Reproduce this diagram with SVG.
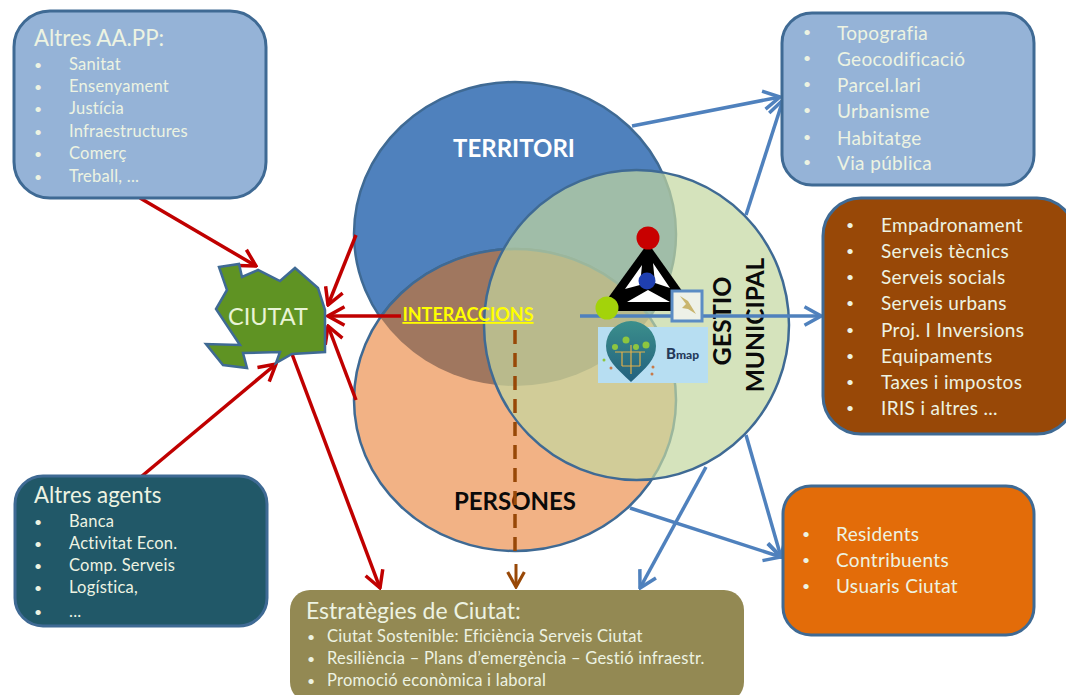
<svg xmlns="http://www.w3.org/2000/svg" width="1066" height="695" viewBox="0 0 1066 695">
<style>
text{font-family:Lato,"Noto Sans","Liberation Sans",sans-serif}
.box{stroke:#3f6a94;stroke-width:3}
.t{fill:#edf3e2}
.m{font-size:19px;letter-spacing:.35px}
.s{font-size:16.5px;letter-spacing:.25px}
.h{font-size:22.3px}
.b{font-family:"Liberation Sans",sans-serif;font-size:14px;letter-spacing:0}
.c{stroke:#4f81bd;stroke-width:3.5;fill:none;marker-end:url(#ab)}
.r{stroke:#c00000;stroke-width:3.5;fill:none;marker-end:url(#ar)}
.e{stroke:#3f6a94;stroke-width:2.5}
.lab{font-weight:700;font-size:24px;fill:#0a0a0a}
</style>
<defs>
<marker id="ab" viewBox="0 0 12 12" refX="11" refY="6" markerWidth="22" markerHeight="22" markerUnits="userSpaceOnUse" orient="auto"><path d="M2 1L11 6L2 11" fill="none" stroke="#4f81bd" stroke-width="1.9"/></marker>
<marker id="ar" viewBox="0 0 12 12" refX="11" refY="6" markerWidth="22" markerHeight="22" markerUnits="userSpaceOnUse" orient="auto"><path d="M2 1L11 6L2 11" fill="none" stroke="#c00000" stroke-width="1.9"/></marker>
<marker id="ao" viewBox="0 0 12 12" refX="11" refY="6" markerWidth="20" markerHeight="20" markerUnits="userSpaceOnUse" orient="auto"><path d="M2 1L11 6L2 11" fill="none" stroke="#984807" stroke-width="1.9"/></marker>
<clipPath id="cT"><ellipse cx="515" cy="234" rx="161" ry="152"/></clipPath>
<linearGradient id="pin" x1="0" y1="0" x2="0" y2="1"><stop offset="0" stop-color="#3b8f8c"/><stop offset="1" stop-color="#23607e"/></linearGradient>
</defs>
<rect width="1066" height="695" fill="#fff"/>

<g id="territori"><ellipse class="e" cx="515" cy="234" rx="161" ry="152" fill="#4f81bd"/></g>
<g id="persones"><ellipse class="e" cx="515" cy="400" rx="161" ry="151" fill="#f2b285"/>
<ellipse class="e" cx="515" cy="400" rx="161" ry="151" fill="#a0775f" clip-path="url(#cT)"/></g>
<g id="gestio"><ellipse class="e" cx="636.5" cy="325" rx="152.5" ry="155" fill="#c3d79f" fill-opacity=".7"/>
<text class="lab" transform="translate(731,321) rotate(-90)" text-anchor="middle" style="font-size:25px">GESTIO</text>
<text class="lab" transform="translate(764,325) rotate(-90)" text-anchor="middle" style="font-size:24.5px">MUNICIPAL</text></g>
<text class="lab" x="515" y="510" text-anchor="middle">PERSONES</text>

<g id="connectors">
<path class="r" d="M356 235L328 305"/>
<path class="r" d="M401 316L328 316" stroke-width="4.5"/>
<path class="r" d="M356 400L328 326"/>
<path class="r" d="M140 198L256 266"/>
<path class="r" d="M142 476L276 364"/>
<path class="r" d="M292 354L380 588"/>
<path class="c" d="M632 126L780 97"/>
<path class="c" d="M746 215L783 100"/>
<path class="c" d="M580 316L821 316"/>
<path class="c" d="M746 435L781 557"/>
<path class="c" d="M630 508L781 557"/>
<path class="c" d="M706 467L640 588"/>
<path d="M515 330V552" fill="none" stroke="#984807" stroke-width="3.5" stroke-dasharray="14 9"/>
<path d="M516 564V587" fill="none" stroke="#984807" stroke-width="3" marker-end="url(#ao)"/>
</g>

<g id="ciutat"><path d="M219 267L239 264L242 277L258 270L280 281L295 268L318 288L325 310L325 352L292 354L276 363L280 352L243 353L247 368L223 365L206 344L240 345L216 309L227 290Z" fill="#5f9323" stroke="#3f6a94" stroke-width="2.5"/><text x="268" y="325" font-size="23.5" fill="#e8f3d5" text-anchor="middle">CIUTAT</text></g>

<g id="altres-aapp"><rect class="box" x="14" y="11" width="252" height="187" rx="36" fill="#95b3d7"/>
<text class="t h" x="34" y="46">Altres AA.PP:</text>
<g class="t s"><text x="69" y="70">Sanitat</text><text x="69" y="92">Ensenyament</text><text x="69" y="114">Justícia</text><text x="69" y="137">Infraestructures</text><text x="69" y="159">Comerç</text><text x="69" y="182">Treball, ...</text>
<g class="b"><text x="34" y="70">•</text><text x="34" y="92">•</text><text x="34" y="114">•</text><text x="34" y="137">•</text><text x="34" y="159">•</text><text x="34" y="182">•</text></g></g></g>

<g id="altres-agents"><rect class="box" x="15" y="476" width="252" height="150" rx="28" fill="#215868"/>
<text class="t h" x="34" y="503">Altres agents</text>
<g class="t s"><text x="69" y="527">Banca</text><text x="69" y="549">Activitat Econ.</text><text x="69" y="571">Comp. Serveis</text><text x="69" y="593">Logística,</text><text x="69" y="617">...</text>
<g class="b"><text x="34" y="527">•</text><text x="34" y="549">•</text><text x="34" y="571">•</text><text x="34" y="593">•</text><text x="34" y="617">•</text></g></g></g>

<g id="territori-llista"><rect class="box" x="782" y="13" width="252" height="172" rx="30" fill="#95b3d7"/>
<g class="t m"><text x="837" y="40">Topografia</text><text x="837" y="66">Geocodificació</text><text x="837" y="92">Parcel.lari</text><text x="837" y="118">Urbanisme</text><text x="837" y="145">Habitatge</text><text x="837" y="170">Via pública</text>
<g class="b"><text x="803" y="37">•</text><text x="803" y="63">•</text><text x="803" y="89">•</text><text x="803" y="115">•</text><text x="803" y="142">•</text><text x="803" y="167">•</text></g></g></g>

<g id="gestio-llista"><rect class="box" x="823" y="198" width="252" height="236" rx="38" fill="#984807"/>
<g class="t m"><text x="881" y="232">Empadronament</text><text x="881" y="258">Serveis tècnics</text><text x="881" y="284">Serveis socials</text><text x="881" y="310">Serveis urbans</text><text x="881" y="337">Proj. I Inversions</text><text x="881" y="363">Equipaments</text><text x="881" y="389">Taxes i impostos</text><text x="881" y="415">IRIS i altres ...</text>
<g class="b"><text x="846" y="230">•</text><text x="846" y="256">•</text><text x="846" y="282">•</text><text x="846" y="308">•</text><text x="846" y="335">•</text><text x="846" y="361">•</text><text x="846" y="387">•</text><text x="846" y="413">•</text></g></g></g>

<g id="persones-llista"><rect class="box" x="783" y="486" width="251" height="149" rx="28" fill="#e36c09"/>
<g class="t m"><text x="836" y="541">Residents</text><text x="836" y="567">Contribuents</text><text x="836" y="593">Usuaris Ciutat</text>
<g class="b"><text x="802" y="539">•</text><text x="802" y="565">•</text><text x="802" y="591">•</text></g></g></g>

<g id="estrategies"><rect x="290" y="590" width="454" height="112" rx="20" fill="#938953"/>
<text class="t" x="306" y="619" font-size="23">Estratègies de Ciutat:</text>
<g class="t s"><text x="327" y="642">Ciutat Sostenible: Eficiència Serveis Ciutat</text><text x="327" y="664">Resiliència – Plans d’emergència – Gestió infraestr.</text><text x="327" y="686">Promoció econòmica i laboral</text>
<g class="b"><text x="307" y="642">•</text><text x="307" y="664">•</text><text x="307" y="686">•</text></g></g></g>

<g id="labels">
<text class="lab" x="514" y="157" style="fill:#fff" text-anchor="middle">TERRITORI</text>
<text x="468" y="321" font-size="18" font-weight="700" fill="#ffff00" text-anchor="middle" text-decoration="underline">INTERACCIONS</text>
</g>

<g id="bim">
<path d="M648 243L608 298L618 311H680L685 295Z" fill="#000"/>
<path d="M642 265L625 289L640 285ZM653 263L670 288L655 283ZM648 290L627 302H670Z" fill="#fff"/>
<circle cx="648" cy="238" r="11.5" fill="#c80000"/>
<circle cx="647" cy="281" r="8.5" fill="#1f3fb0"/>
<circle cx="607" cy="308" r="11.5" fill="#a3d30a"/>
<rect x="672" y="291" width="30" height="30" fill="#eef1e8" stroke="#5b8cc4" stroke-width="3"/>
<path d="M680 296l8 5 8 13-8-5-6-1 4-4z" fill="#c9b56e"/>
<rect x="598" y="327" width="110" height="56" fill="#b7def2"/>
<path d="M631 382C616 368 606 359 606 346A25 25 0 0 1 656 346C656 359 646 368 631 382Z" fill="url(#pin)"/>
<circle cx="626" cy="340" r="3.5" fill="#8dc63f"/><circle cx="615" cy="347" r="3" fill="#8dc63f"/><circle cx="636" cy="347" r="3" fill="#8dc63f"/><circle cx="646" cy="345" r="3.5" fill="#8dc63f"/>
<path d="M615 352H645M631 345V374M622 352V366M640 352V366M622 366H640" stroke="#e2b04a" stroke-width="1.2" fill="none"/>
<circle cx="604" cy="360" r="1.5" fill="#8dc63f"/><circle cx="611" cy="368" r="1.5" fill="#c87a4a"/><circle cx="653" cy="367" r="1.5" fill="#c87a4a"/><circle cx="652" cy="374" r="1.5" fill="#c87a4a"/>
<text x="666" y="359" font-weight="900" font-size="12" fill="#253a5a"><tspan font-size="15">B</tspan>map</text>
</g>
</svg>
